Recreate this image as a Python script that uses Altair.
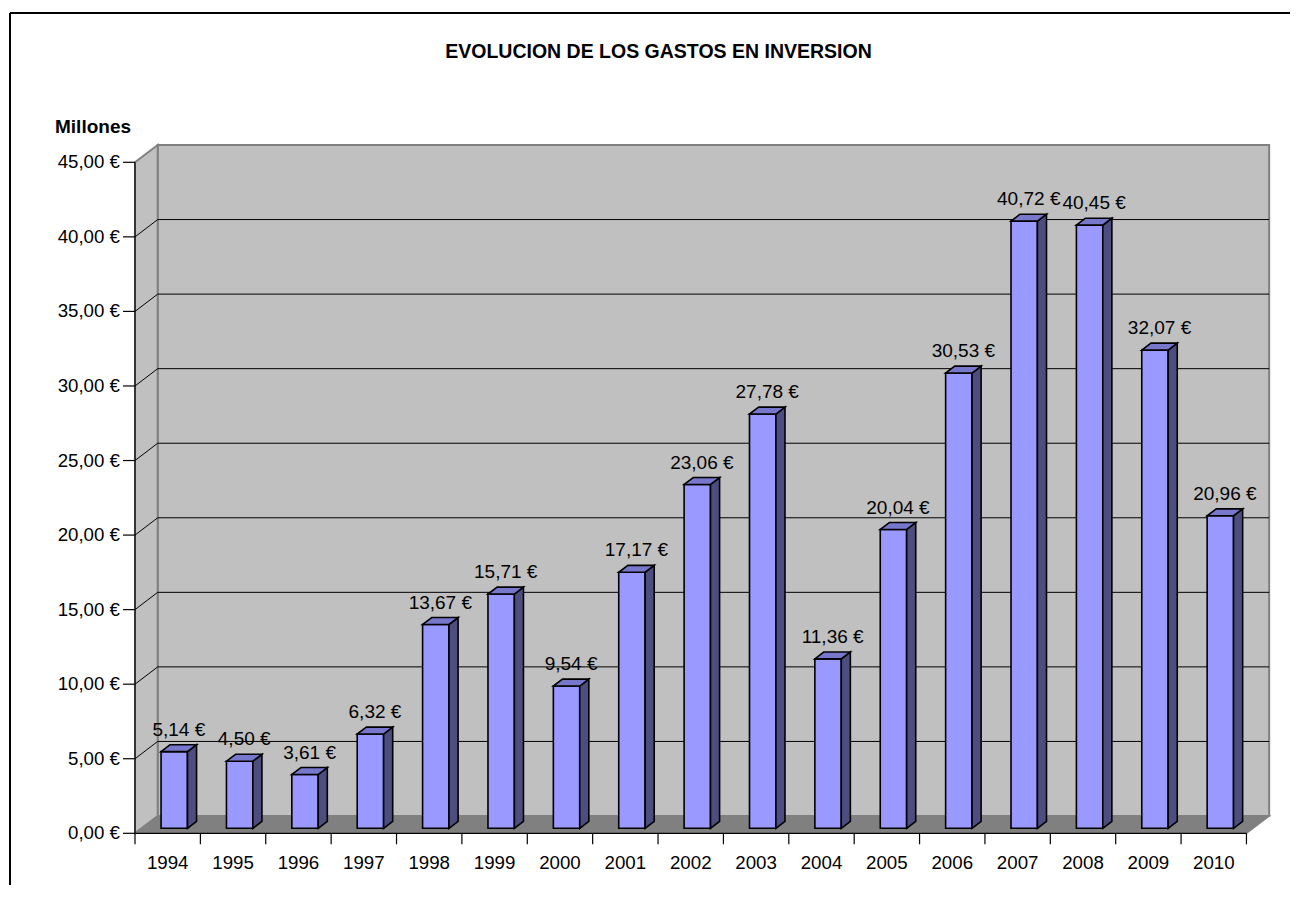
import altair as alt
import pandas as pd

# ---------------- data ----------------
years = ["1994", "1995", "1996", "1997", "1998", "1999", "2000", "2001", "2002",
         "2003", "2004", "2005", "2006", "2007", "2008", "2009", "2010"]
values = [5.14, 4.50, 3.61, 6.32, 13.67, 15.71, 9.54, 17.17, 23.06,
          27.78, 11.36, 20.04, 30.53, 40.72, 40.45, 32.07, 20.96]
y_ticks = [0, 5, 10, 15, 20, 25, 30, 35, 40, 45]
title_text = "EVOLUCION DE LOS GASTOS EN INVERSION"
unit_text = "Millones"


def euro(v):
    return f"{v:.2f}".replace(".", ",") + " €"


# ---------------- layout / style ----------------
W, H = 1280, 872
BAND_PX = 65.38      # pixels per category
UNIT_PX = 14.911     # pixels per value unit
ORIGIN_X = 125.0     # plot-px of front axis corner
ORIGIN_Y = 820.3
DX = 22.7 / BAND_PX  # depth offset (x units)
DY = 17.3 / UNIT_PX  # depth offset (y units)
F0, F1 = 0.29, 0.69  # bar front / back depth fraction
HALF = 13.2 / BAND_PX
FONT = "Liberation Sans"
FS = 18.7

n = len(years)
ymax = y_ticks[-1]

xs = alt.Scale(domain=[-ORIGIN_X / BAND_PX, (W - ORIGIN_X) / BAND_PX], nice=False, zero=False)
ys = alt.Scale(domain=[-(H - ORIGIN_Y) / UNIT_PX, ORIGIN_Y / UNIT_PX], nice=False, zero=False)


def X(f, **kw):
    return alt.X(f, type="quantitative", scale=xs, axis=None, **kw)


def Y(f, **kw):
    return alt.Y(f, type="quantitative", scale=ys, axis=None, **kw)


layers = []

# back wall
back = pd.DataFrame({"x": [DX], "x2": [n + DX], "y": [DY], "y2": [ymax + DY]})
layers.append(alt.Chart(back).mark_rect(fill="#C0C0C0", stroke="#808080", strokeWidth=2).encode(
    x=X("x"), x2="x2", y=Y("y"), y2="y2"))

# side wall
side = pd.DataFrame({"x": [0, DX], "y": [0, DY], "y2": [ymax, ymax + DY]})
layers.append(alt.Chart(side).mark_area(orient="vertical", fill="#C0C0C0", stroke="#808080",
                                        strokeWidth=2).encode(
    x=X("x"), y=Y("y", stack=None), y2="y2"))

# floor
floor = pd.DataFrame({"y": [0, DY], "x": [0, DX], "x2": [n, n + DX]})
layers.append(alt.Chart(floor).mark_area(orient="horizontal", fill="#808080", stroke="#808080",
                                         strokeWidth=1.5).encode(
    y=Y("y"), x=X("x", stack=None), x2="x2"))

# grid lines on back wall and side wall
grid_vals = y_ticks[1:-1]
grid = pd.DataFrame({"x": [DX] * len(grid_vals), "x2": [n + DX] * len(grid_vals),
                     "y": [v + DY for v in grid_vals]})
layers.append(alt.Chart(grid).mark_rule(color="black", strokeWidth=1).encode(
    x=X("x"), x2="x2", y=Y("y")))
sgrid = pd.DataFrame({"x": [0] * len(grid_vals), "x2": [DX] * len(grid_vals),
                      "y": grid_vals, "y2": [v + DY for v in grid_vals]})
layers.append(alt.Chart(sgrid).mark_rule(color="black", strokeWidth=1).encode(
    x=X("x"), x2="x2", y=Y("y"), y2="y2"))

# axis lines
yaxis = pd.DataFrame({"x": [0], "y": [0], "y2": [ymax]})
layers.append(alt.Chart(yaxis).mark_rule(color="black", strokeWidth=1.2).encode(
    x=X("x"), y=Y("y"), y2="y2"))
xaxis = pd.DataFrame({"x": [0], "x2": [n], "y": [0]})
layers.append(alt.Chart(xaxis).mark_rule(color="black", strokeWidth=1.2).encode(
    x=X("x"), x2="x2", y=Y("y")))

# ticks
yt = pd.DataFrame({"x": [-12 / BAND_PX] * len(y_ticks), "x2": [0] * len(y_ticks), "y": y_ticks})
layers.append(alt.Chart(yt).mark_rule(color="black", strokeWidth=1.2).encode(
    x=X("x"), x2="x2", y=Y("y")))
xt = pd.DataFrame({"x": list(range(n + 1)), "y": [0] * (n + 1), "y2": [-11 / UNIT_PX] * (n + 1)})
layers.append(alt.Chart(xt).mark_rule(color="black", strokeWidth=1.2).encode(
    x=X("x"), y=Y("y"), y2="y2"))

# tick labels
yl = pd.DataFrame({"x": [0] * len(y_ticks), "y": y_ticks, "t": [euro(v) for v in y_ticks]})
layers.append(alt.Chart(yl).mark_text(align="right", baseline="middle", dx=-15, font=FONT,
                                      fontSize=FS, color="black").encode(
    x=X("x"), y=Y("y"), text="t:N"))
xl = pd.DataFrame({"x": [i + 0.5 for i in range(n)], "y": [0] * n, "t": years})
layers.append(alt.Chart(xl).mark_text(align="center", baseline="middle", dy=30, font=FONT,
                                      fontSize=FS, color="black").encode(
    x=X("x"), y=Y("y"), text="t:N"))

# bars
dd_x = (F1 - F0) * DX
dd_y = (F1 - F0) * DY
front_rows, side_rows, top_rows, lab_rows = [], [], [], []
for i, (yr, v) in enumerate(zip(years, values)):
    xl_ = i + 0.5 + F0 * DX - HALF
    xr_ = xl_ + 2 * HALF
    y0 = F0 * DY
    y1 = v + F0 * DY
    front_rows.append({"year": yr, "x": xl_, "x2": xr_, "y": y0, "y2": y1})
    side_rows.append({"year": yr, "x": xr_, "y": y0, "y2": y1})
    side_rows.append({"year": yr, "x": xr_ + dd_x, "y": y0 + dd_y, "y2": y1 + dd_y})
    top_rows.append({"year": yr, "y": y1, "x": xl_, "x2": xr_})
    top_rows.append({"year": yr, "y": y1 + dd_y, "x": xl_ + dd_x, "x2": xr_ + dd_x})
    lab_rows.append({"year": yr, "x": i + 0.5 + F0 * DX + dd_x / 2, "y": v + F1 * DY,
                     "t": euro(v)})

layers.append(alt.Chart(pd.DataFrame(front_rows)).mark_rect(
    fill="#9999FF", stroke="black", strokeWidth=1.6).encode(
    x=X("x"), x2="x2", y=Y("y"), y2="y2"))
layers.append(alt.Chart(pd.DataFrame(side_rows)).mark_area(
    orient="vertical", fill="#4D4D80", stroke="black", strokeWidth=1.6).encode(
    x=X("x"), y=Y("y", stack=None), y2="y2", detail="year:N"))
layers.append(alt.Chart(pd.DataFrame(top_rows)).mark_area(
    orient="horizontal", fill="#7777CC", stroke="black", strokeWidth=1.6).encode(
    y=Y("y"), x=X("x", stack=None), x2="x2", detail="year:N"))

# value labels
layers.append(alt.Chart(pd.DataFrame(lab_rows)).mark_text(
    align="center", baseline="alphabetic", dy=-9, font=FONT, fontSize=19, color="black").encode(
    x=X("x"), y=Y("y"), text="t:N"))

# title and unit label
tdf = pd.DataFrame({"t": [title_text]})
layers.append(alt.Chart(tdf).mark_text(align="center", baseline="alphabetic", font=FONT,
                                       fontSize=19.5, fontWeight="bold", color="black").encode(
    x=alt.value(648.5), y=alt.value(44.5), text="t:N"))
udf = pd.DataFrame({"t": [unit_text]})
layers.append(alt.Chart(udf).mark_text(align="left", baseline="alphabetic", font=FONT,
                                       fontSize=19, fontWeight="bold", color="black").encode(
    x=alt.value(45), y=alt.value(120), text="t:N"))

# frame (left and top edges)
fdf = pd.DataFrame({"k": [0]})
layers.append(alt.Chart(fdf).mark_rule(color="black", strokeWidth=2).encode(
    x=alt.value(0), y=alt.value(0), y2=alt.value(H)))
layers.append(alt.Chart(fdf).mark_rule(color="black", strokeWidth=2).encode(
    x=alt.value(0), x2=alt.value(W), y=alt.value(0)))

chart = alt.layer(*layers).properties(
    width=W, height=H,
    autosize=alt.AutoSizeParams(type="none"),
    padding={"left": 2, "top": 5, "right": 0, "bottom": 0},
    background="white",
).configure_view(strokeWidth=0)

chart.save("out.html", embed_options={"renderer": "svg", "actions": False})
